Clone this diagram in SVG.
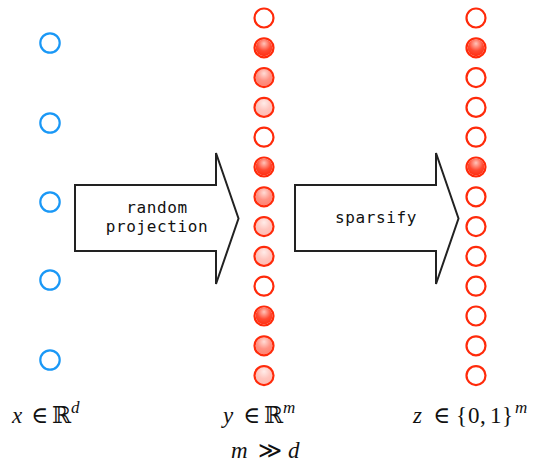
<svg xmlns="http://www.w3.org/2000/svg" width="541" height="462" viewBox="0 0 541 462">
<defs>
<radialGradient id="g" cx="0.5" cy="0.3" r="0.75" fx="0.5" fy="0.25">
<stop offset="0" stop-color="#ffc4ba"/>
<stop offset="0.55" stop-color="#ff4a32"/>
<stop offset="1" stop-color="#ff2a0c"/>
</radialGradient>
</defs>
<style>
.b{fill:#fff;stroke:#1a98f6;stroke-width:2.2}
.r{fill:#fff;stroke:#ff2a0a;stroke-width:2.2}
.f1{fill:url(#g)}
.f2{fill:url(#g);fill-opacity:0.6}
.f3{fill:url(#g);fill-opacity:0.32}
.arrow{fill:#fff;stroke:#222;stroke-width:2;stroke-linejoin:miter}
.lbl{font-family:"DejaVu Sans Mono",monospace;font-size:16px;letter-spacing:0.6px;fill:#111;text-anchor:middle}
.m{font-family:"Liberation Serif","DejaVu Serif",serif;font-size:23px;fill:#111}
.i{font-style:italic}
.s{font-size:17px;font-style:italic}
</style>
<g id="input">
<circle class="b" cx="50" cy="43" r="9.7"/>
<circle class="b" cx="50" cy="123" r="9.7"/>
<circle class="b" cx="50" cy="202" r="9.7"/>
<circle class="b" cx="50" cy="280" r="9.7"/>
<circle class="b" cx="50" cy="360" r="9.7"/>
</g>
<g id="projected">
<circle class="r" cx="264" cy="18" r="9.5"/>
<circle class="r" cx="264" cy="47.8" r="9.5"/><circle class="f1" cx="264" cy="47.8" r="8.4"/>
<circle class="r" cx="264" cy="77.6" r="9.5"/><circle class="f2" cx="264" cy="77.6" r="8.4"/>
<circle class="r" cx="264" cy="107.4" r="9.5"/><circle class="f3" cx="264" cy="107.4" r="8.4"/>
<circle class="r" cx="264" cy="137.2" r="9.5"/>
<circle class="r" cx="264" cy="167" r="9.5"/><circle class="f1" cx="264" cy="167" r="8.4"/>
<circle class="r" cx="264" cy="196.8" r="9.5"/><circle class="f2" cx="264" cy="196.8" r="8.4"/>
<circle class="r" cx="264" cy="226.6" r="9.5"/><circle class="f3" cx="264" cy="226.6" r="8.4"/>
<circle class="r" cx="264" cy="256.4" r="9.5"/><circle class="f3" cx="264" cy="256.4" r="8.4"/>
<circle class="r" cx="264" cy="286.2" r="9.5"/>
<circle class="r" cx="264" cy="316" r="9.5"/><circle class="f1" cx="264" cy="316" r="8.4"/>
<circle class="r" cx="264" cy="345.8" r="9.5"/><circle class="f2" cx="264" cy="345.8" r="8.4"/>
<circle class="r" cx="264" cy="375.6" r="9.5"/><circle class="f3" cx="264" cy="375.6" r="8.4"/>
</g>
<g id="sparse">
<circle class="r" cx="476" cy="18" r="9.5"/>
<circle class="r" cx="476" cy="47.8" r="9.5"/><circle class="f1" cx="476" cy="47.8" r="8.4"/>
<circle class="r" cx="476" cy="77.6" r="9.5"/>
<circle class="r" cx="476" cy="107.4" r="9.5"/>
<circle class="r" cx="476" cy="137.2" r="9.5"/>
<circle class="r" cx="476" cy="167" r="9.5"/><circle class="f1" cx="476" cy="167" r="8.4"/>
<circle class="r" cx="476" cy="196.8" r="9.5"/>
<circle class="r" cx="476" cy="226.6" r="9.5"/>
<circle class="r" cx="476" cy="256.4" r="9.5"/>
<circle class="r" cx="476" cy="286.2" r="9.5"/>
<circle class="r" cx="476" cy="316" r="9.5"/>
<circle class="r" cx="476" cy="345.8" r="9.5"/>
<circle class="r" cx="476" cy="375.6" r="9.5"/>
</g>
<g id="connectors">
<g id="arrow-projection">
<path class="arrow" d="M75,185 H216 V153 L238.5,218.5 L216,284 V251 H75 Z"/>
<text class="lbl" x="157" y="213">random</text>
<text class="lbl" x="157" y="232">projection</text>
</g>
<g id="arrow-sparsify">
<path class="arrow" d="M295,185 H436 V153 L458.5,218.5 L436,284 V251 H295 Z"/>
<text class="lbl" x="376" y="223">sparsify</text>
</g>
</g>
<g id="labels">
<text class="m" y="423"><tspan class="i" x="12">x</tspan><tspan x="31">∈</tspan><tspan x="52">ℝ</tspan><tspan class="s" x="71" dy="-10">d</tspan></text>
<text class="m" y="423"><tspan class="i" x="223">y</tspan><tspan x="243">∈</tspan><tspan x="264">ℝ</tspan><tspan class="s" x="283" dy="-10">m</tspan></text>
<text class="m" y="423"><tspan class="i" x="413">z</tspan><tspan x="433">∈</tspan><tspan x="456">{</tspan><tspan x="468">0</tspan><tspan x="480">,</tspan><tspan x="490">1</tspan><tspan x="502">}</tspan><tspan class="s" x="515" dy="-10">m</tspan></text>
<text class="m" y="458"><tspan class="i" x="231">m</tspan><tspan x="258">≫</tspan><tspan class="i" x="288">d</tspan></text>
</g>
</svg>
